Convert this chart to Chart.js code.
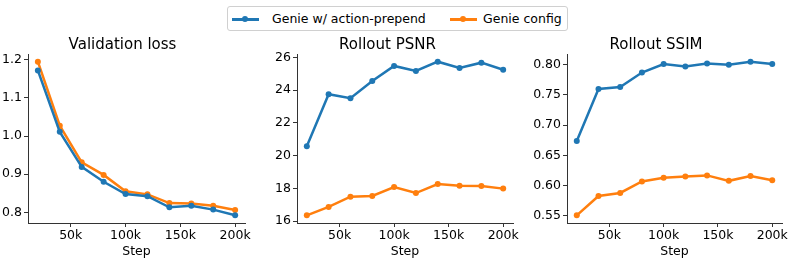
<!DOCTYPE html>
<html>
<head>
<meta charset="utf-8">
<script src="https://cdn.jsdelivr.net/npm/chart.js@4"></script>
<style>
  body { margin: 0; background: #fff; width: 793px; height: 259px; position: relative; overflow: hidden; font-family: "DejaVu Sans", sans-serif; }
  canvas { position: absolute; }
  #legend { position: absolute; left: 227px; top: 6px; width: 339px; height: 23px; border: 1px solid #d0d0d0; border-radius: 3px; font-size: 12.5px; color: #000; }
  .item { position: absolute; top: 0; height: 23px; line-height: 23px; white-space: nowrap; }
  .handle { position: absolute; top: 11px; width: 27px; height: 2.5px; }
  .dot { position: absolute; left: 10px; top: -2px; width: 6px; height: 6px; border-radius: 50%; }
</style>
</head>
<body>
<div id="legend">
  <div class="item" style="left:4px"><span class="handle" style="background:#1f77b4"><span class="dot" style="background:#1f77b4"></span></span><span style="position:absolute;left:40px">Genie w/ action-prepend</span></div>
  <div class="item" style="left:222px"><span class="handle" style="background:#ff7f0e"><span class="dot" style="background:#ff7f0e"></span></span><span style="position:absolute;left:33px">Genie config</span></div>
</div>
<canvas id="loss" width="262" height="229" style="left:0;top:30px"></canvas>
<canvas id="psnr" width="268" height="229" style="left:262px;top:30px"></canvas>
<canvas id="ssim" width="263" height="229" style="left:530px;top:30px"></canvas>
<script>
const steps = [20000, 40000, 60000, 80000, 100000, 120000, 140000, 160000, 180000, 200000];
const stepTicks = [50000, 100000, 150000, 200000];

const lossPrepend = [1.172, 1.011, 0.919, 0.880, 0.848, 0.842, 0.813, 0.817, 0.807, 0.792];
const lossConfig = [1.195, 1.027, 0.931, 0.898, 0.855, 0.847, 0.824, 0.823, 0.817, 0.806];
const lossTicks = [0.8, 0.9, 1.0, 1.1, 1.2];

const psnrPrepend = [20.57, 23.74, 23.50, 24.55, 25.47, 25.16, 25.73, 25.35, 25.67, 25.24];
const psnrConfig = [16.35, 16.86, 17.49, 17.53, 18.08, 17.71, 18.26, 18.16, 18.14, 17.98];
const psnrTicks = [16, 18, 20, 22, 24, 26];

const ssimPrepend = [0.674, 0.760, 0.763, 0.787, 0.801, 0.797, 0.802, 0.800, 0.805, 0.801];
const ssimConfig = [0.551, 0.583, 0.588, 0.607, 0.613, 0.615, 0.617, 0.608, 0.616, 0.609];
const ssimTicks = [0.55, 0.60, 0.65, 0.70, 0.75, 0.80];

Chart.defaults.font.family = "DejaVu Sans";
Chart.defaults.font.size = 12.5;
Chart.defaults.color = "#000";

function series(values, color) {
  return {
    data: steps.map((s, i) => ({ x: s, y: values[i] })),
    borderColor: color,
    backgroundColor: color,
    borderWidth: 2.5,
    pointRadius: 3,
    pointBorderWidth: 0,
    tension: 0
  };
}

// matplotlib-like auto range: data span plus 5% each side
function padRange(a, b) {
  const all = a.concat(b);
  const lo = Math.min(...all), hi = Math.max(...all);
  const m = (hi - lo) * 0.05;
  return [lo - m, hi + m];
}

function makePanel(id, title, a, b, yTicks, decimals, yWidth, padRight) {
  const [ymin, ymax] = padRange(a, b);
  new Chart(document.getElementById(id), {
    type: "line",
    data: { datasets: [series(a, "#1f77b4"), series(b, "#ff7f0e")] },
    options: {
      responsive: false,
      animation: false,
      devicePixelRatio: 1,
      layout: { padding: { left: 0, right: padRight, top: 0, bottom: 0 } },
      plugins: {
        legend: { display: false },
        tooltip: { enabled: false },
        title: { display: true, text: title, font: { size: 15, weight: "normal" }, color: "#000", padding: { top: 6, bottom: 0 } }
      },
      scales: {
        x: {
          type: "linear",
          min: 11000,
          max: 209000,
          afterBuildTicks: s => { s.ticks = stepTicks.map(v => ({ value: v })); },
          afterFit: s => { s.height = 36; },
          ticks: { padding: 1, maxRotation: 0, callback: v => (v / 1000) + "k" },
          grid: { drawOnChartArea: false, drawTicks: true, tickLength: 4, tickColor: "#333", tickWidth: 1 },
          border: { display: true, color: "#333", width: 1 },
          title: { display: true, text: "Step", font: { size: 12.5 }, color: "#000", padding: { top: 5, bottom: 0 } }
        },
        y: {
          min: ymin,
          max: ymax,
          afterBuildTicks: s => { s.ticks = yTicks.map(v => ({ value: v })); },
          afterFit: s => { s.width = yWidth; },
          ticks: { padding: 2, callback: v => v.toFixed(decimals) },
          grid: { drawOnChartArea: false, drawTicks: true, tickLength: 4, tickColor: "#333", tickWidth: 1 },
          border: { display: true, color: "#333", width: 1 }
        }
      }
    }
  });
}

makePanel("loss", "Validation loss", lossPrepend, lossConfig, lossTicks, 1, 28, 17);
makePanel("psnr", "Rollout PSNR", psnrPrepend, psnrConfig, psnrTicks, 0, 35, 17);
makePanel("ssim", "Rollout SSIM", ssimPrepend, ssimConfig, ssimTicks, 2, 37, 11);
</script>
</body>
</html>
